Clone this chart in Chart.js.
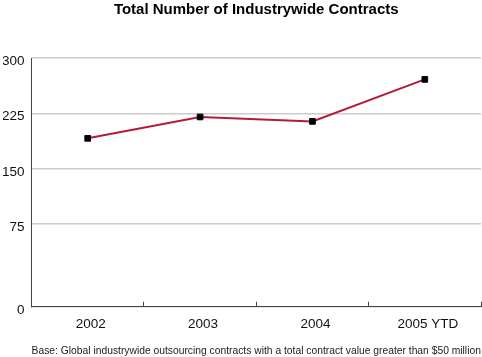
<!DOCTYPE html>
<html>
<head>
<meta charset="utf-8">
<script src="https://cdn.jsdelivr.net/npm/chart.js@4.4.0/dist/chart.umd.min.js"></script>
<style>
  html, body { margin: 0; padding: 0; background: #ffffff; overflow: hidden; }
  #wrap { width: 482px; height: 357px; position: relative; }
  canvas { display: block; }
</style>
</head>
<body>
<div id="wrap"><canvas id="c"></canvas></div>
<script>
// ---- data ----
const categories = ['2002', '2003', '2004', '2005 YTD'];
const contracts = [191, 220, 214, 271];
const yTickValues = [-37.5, 75, 150, 225, 300];   // bottom tick is the axis floor, labelled "0"
const yTickLabels = ['0', '75', '150', '225', '300'];
const titleText = 'Total Number of Industrywide Contracts';
const footnoteText = 'Base: Global industrywide outsourcing contracts with a total contract value greater than $50 million';

const FONT = '"Liberation Sans", Arial, Helvetica, sans-serif';

new Chart(document.getElementById('c'), {
  type: 'line',
  data: {
    labels: categories,
    datasets: [{
      data: contracts,
      borderColor: '#b31a3c',
      borderWidth: 2,
      pointStyle: 'rect',
      pointRadius: 4,
      pointBorderWidth: 1,
      pointBackgroundColor: '#000000',
      pointBorderColor: '#000000',
      tension: 0,
      fill: false
    }]
  },
  options: {
    responsive: true,
    maintainAspectRatio: false,
    animation: false,
    layout: { autoPadding: false, padding: { left: 3, right: 1, top: 0, bottom: 0 } },
    plugins: {
      legend: { display: false },
      tooltip: { enabled: false },
      title: {
        display: true,
        text: titleText,
        fullSize: false,
        color: '#000000',
        font: { family: FONT, size: 15, weight: 'bold' },
        padding: { top: 1, bottom: 39 }
      },
      subtitle: {
        display: true,
        text: footnoteText,
        position: 'bottom',
        fullSize: false,
        color: '#222222',
        font: { family: FONT, size: 10.3 },
        padding: { top: 13.7, bottom: 0 }
      }
    },
    scales: {
      x: {
        type: 'category',
        offset: true,
        afterFit: (scale) => { scale.height = 24.2; },
        grid: {
          display: true,
          offset: true,
          drawOnChartArea: false,
          drawTicks: true,
          tickLength: -5,
          color: '#444444',
          lineWidth: 1
        },
        border: { display: true, color: '#444444', width: 1 },
        ticks: {
          color: '#111111',
          font: { family: FONT, size: 13.5 },
          padding: 14,
          labelOffset: 3,
          maxRotation: 0,
          autoSkip: false
        }
      },
      y: {
        type: 'linear',
        min: yTickValues[0],
        max: yTickValues[yTickValues.length - 1],
        afterBuildTicks: (scale) => {
          scale.ticks = yTickValues.map(v => ({ value: v }));
        },
        afterFit: (scale) => { scale.width = 28.5; },
        grid: {
          color: '#cccccc',
          lineWidth: 1.5,
          drawTicks: false
        },
        border: { display: true, color: '#444444', width: 1 },
        ticks: {
          color: '#111111',
          font: { family: FONT, size: 13.5 },
          padding: 7,
          labelOffset: 3.5,
          callback: (value) => {
            const i = yTickValues.indexOf(value);
            return i >= 0 ? yTickLabels[i] : '';
          }
        }
      }
    }
  }
});
</script>
</body>
</html>
